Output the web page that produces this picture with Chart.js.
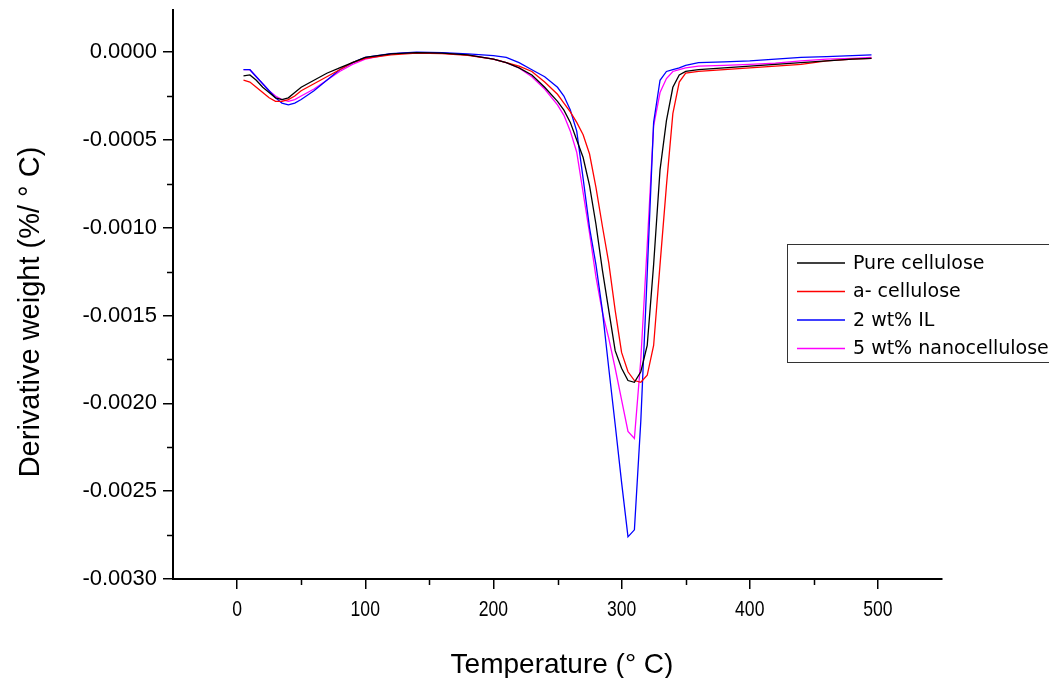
<!DOCTYPE html>
<html>
<head>
<meta charset="utf-8">
<title>DTG curves</title>
<script src="https://cdn.jsdelivr.net/npm/chart.js@4.4.1/dist/chart.umd.min.js"></script>
<style>
  html, body { margin: 0; padding: 0; background: #fff; }
  #wrap { width: 1049px; height: 678px; }
</style>
</head>
<body>
<div id="wrap"><canvas id="dtg"></canvas></div>
<script>
// Temperatura (°C) de cada muestra
const temperatures = [5, 10, 15, 20, 25, 30, 35, 40, 45, 50, 60, 70, 80, 90, 100, 120, 140, 160, 180, 200,
  210, 220, 230, 240, 250, 255, 260, 265, 270, 275, 280, 285, 290, 295, 300, 305, 310, 315, 320, 325,
  330, 335, 340, 345, 350, 360, 380, 400, 420, 440, 460, 480, 495];

// Derivada del peso (%/°C) por serie
const pureCellulose = [-0.000135, -0.00013, -0.00016, -0.0002, -0.00023, -0.00026, -0.00027, -0.00026, -0.00023, -0.0002,
  -0.00016, -0.00012, -0.00009, -0.00006, -0.00003, -0.00001, -0.000003, -0.000005, -0.000015, -0.00004,
  -0.00006, -0.00009, -0.00013, -0.0002, -0.00028, -0.00033, -0.0004, -0.0005, -0.0006, -0.00076,
  -0.00098, -0.00124, -0.00147, -0.0017, -0.0018, -0.00187, -0.00188, -0.00182, -0.00167, -0.00121,
  -0.00067, -0.00039, -0.0002, -0.00013, -0.00011, -0.0001, -0.00009, -0.00008, -0.00007, -0.00006,
  -0.00005, -0.00004, -0.000035];

const aCellulose = [-0.00016, -0.00017, -0.0002, -0.00023, -0.00026, -0.00028, -0.00028, -0.00027, -0.00025, -0.00022,
  -0.00018, -0.00014, -0.0001, -0.00006, -0.000035, -0.000015, -0.000005, -0.000008, -0.000018, -0.00004,
  -0.00006, -0.00008, -0.00011, -0.00017, -0.00024, -0.00029, -0.00034, -0.0004, -0.00047, -0.00058,
  -0.00077, -0.00099, -0.0012, -0.00147, -0.00171, -0.00182, -0.00187, -0.00188, -0.00184, -0.00167,
  -0.00121, -0.00076, -0.00035, -0.00017, -0.00012, -0.00011, -0.0001, -0.00009, -0.00008, -0.00007,
  -0.00005, -0.00004, -0.000035];

const il2 = [-0.0001, -0.0001, -0.00014, -0.00018, -0.00022, -0.00026, -0.00029, -0.0003, -0.00029, -0.00027,
  -0.00022, -0.00016, -0.0001, -0.00006, -0.00003, -0.000008, 0, -0.000003, -0.00001, -0.00002,
  -0.00003, -0.00006, -0.0001, -0.00014, -0.0002, -0.00025, -0.00033, -0.00045, -0.00072, -0.001,
  -0.00121, -0.00147, -0.0018, -0.00212, -0.00245, -0.00276, -0.00272, -0.0021, -0.00126, -0.0004,
  -0.00016, -0.00011, -0.0001, -0.00009, -0.000075, -0.00006, -0.000055, -0.00005, -0.00004, -0.00003,
  -0.000025, -0.00002, -0.000015];

const nano5 = [-0.0001, -0.0001, -0.00014, -0.00018, -0.00022, -0.00025, -0.00027, -0.00028, -0.00027, -0.00025,
  -0.00021, -0.00016, -0.00011, -0.00007, -0.00004, -0.00001, -0.000003, -0.000005, -0.000015, -0.00004,
  -0.00006, -0.00009, -0.00014, -0.00021, -0.0003, -0.00036, -0.00045, -0.00057, -0.0008, -0.00103,
  -0.00128, -0.00148, -0.00163, -0.0018, -0.00198, -0.00216, -0.0022, -0.00175, -0.0011, -0.00042,
  -0.00023, -0.00015, -0.00011, -0.0001, -0.00009, -0.00008, -0.000075, -0.00007, -0.000063, -0.00005,
  -0.00004, -0.000035, -0.00003];

// Marcas de los ejes
const xTicks = [0, 100, 200, 300, 400, 500];
const xMinorTicks = [50, 150, 250, 350, 450];
const yTicks = [-0.003, -0.0025, -0.002, -0.0015, -0.001, -0.0005, 0];
const yMinorTicks = [-0.00275, -0.00225, -0.00175, -0.00125, -0.00075, -0.00025];

const seriesNames = ['Pure cellulose', 'a- cellulose', '2 wt% IL', '5 wt% nanocellulose'];
const seriesColors = ['#000000', '#ff0000', '#0000ff', '#ff00ff'];
const seriesValues = [pureCellulose, aCellulose, il2, nano5];

const SANS = '"Liberation Sans", Arial, sans-serif';

// Marcas menores, etiquetas del eje X, títulos y leyenda
const extras = {
  id: 'extras',
  afterDraw(chart) {
    const { ctx, scales: { x, y }, chartArea } = chart;
    ctx.save();
    ctx.strokeStyle = '#000';
    ctx.lineWidth = 1.5;
    ctx.beginPath();
    xMinorTicks.forEach(v => {
      const px = Math.round(x.getPixelForValue(v)) + 0.5;
      ctx.moveTo(px, chartArea.bottom);
      ctx.lineTo(px, chartArea.bottom + 6);
    });
    yMinorTicks.forEach(v => {
      const py = Math.round(y.getPixelForValue(v)) + 0.5;
      ctx.moveTo(chartArea.left - 6, py);
      ctx.lineTo(chartArea.left, py);
    });
    ctx.stroke();

    // Etiquetas X (tipografía algo estrecha)
    ctx.fillStyle = '#000';
    ctx.font = '22px ' + SANS;
    ctx.textAlign = 'center';
    ctx.textBaseline = 'alphabetic';
    xTicks.forEach(v => {
      ctx.save();
      ctx.translate(x.getPixelForValue(v), 616);
      ctx.scale(0.8, 1);
      ctx.fillText(String(v), 0, 0);
      ctx.restore();
    });

    // Títulos
    ctx.font = '28px ' + SANS;
    ctx.fillText('Temperature (° C)', 562, 673);
    ctx.save();
    ctx.translate(39, 312);
    ctx.rotate(-Math.PI / 2);
    ctx.font = '29px ' + SANS;
    ctx.fillText('Derivative weight (%/ ° C)', 0, 0);
    ctx.restore();

    // Leyenda
    ctx.strokeStyle = '#333';
    ctx.lineWidth = 1;
    ctx.strokeRect(787.5, 244.5, 300, 118);
    ctx.font = '19px "DejaVu Sans", Verdana, sans-serif';
    ctx.textAlign = 'left';
    ctx.textBaseline = 'middle';
    chart.data.datasets.forEach((ds, i) => {
      const ly = 263 + i * 28.5;
      ctx.strokeStyle = ds.borderColor;
      ctx.lineWidth = 1.3;
      ctx.beginPath();
      ctx.moveTo(797, ly);
      ctx.lineTo(845, ly);
      ctx.stroke();
      ctx.fillStyle = '#000';
      ctx.fillText(ds.label, 853, ly + 1);
    });
    ctx.restore();
  }
};

new Chart(document.getElementById('dtg'), {
  type: 'line',
  data: {
    datasets: seriesValues.map((vals, i) => ({
      label: seriesNames[i],
      data: temperatures.map((t, j) => ({ x: t, y: vals[j] })),
      borderColor: seriesColors[i],
      borderWidth: 1.3,
      pointRadius: 0,
      tension: 0,
      fill: false
    }))
  },
  options: {
    responsive: true,
    maintainAspectRatio: false,
    animation: false,
    layout: { padding: { top: 10, right: 107, left: 0, bottom: 0 } },
    plugins: { legend: { display: false }, tooltip: { enabled: false } },
    scales: {
      x: {
        type: 'linear',
        min: -50,
        max: 550,
        afterBuildTicks: scale => { scale.ticks = xTicks.map(v => ({ value: v })); },
        afterFit: scale => { scale.height = 99; scale.paddingLeft = 0; scale.paddingRight = 0; },
        grid: { drawOnChartArea: false, color: '#000', tickLength: 10, lineWidth: 1.5 },
        border: { color: '#000', width: 2 },
        ticks: { display: false }
      },
      y: {
        type: 'linear',
        min: -0.003,
        max: 0.00024,
        afterBuildTicks: scale => { scale.ticks = yTicks.map(v => ({ value: v })); },
        afterFit: scale => { scale.width = 173; scale.paddingTop = 0; scale.paddingBottom = 0; },
        grid: { drawOnChartArea: false, color: '#000', tickLength: 10, lineWidth: 1.5 },
        border: { color: '#000', width: 2 },
        ticks: {
          color: '#000',
          padding: 6,
          font: { family: SANS, size: 22 },
          callback: v => v.toFixed(4)
        }
      }
    }
  },
  plugins: [extras]
});
</script>
</body>
</html>
